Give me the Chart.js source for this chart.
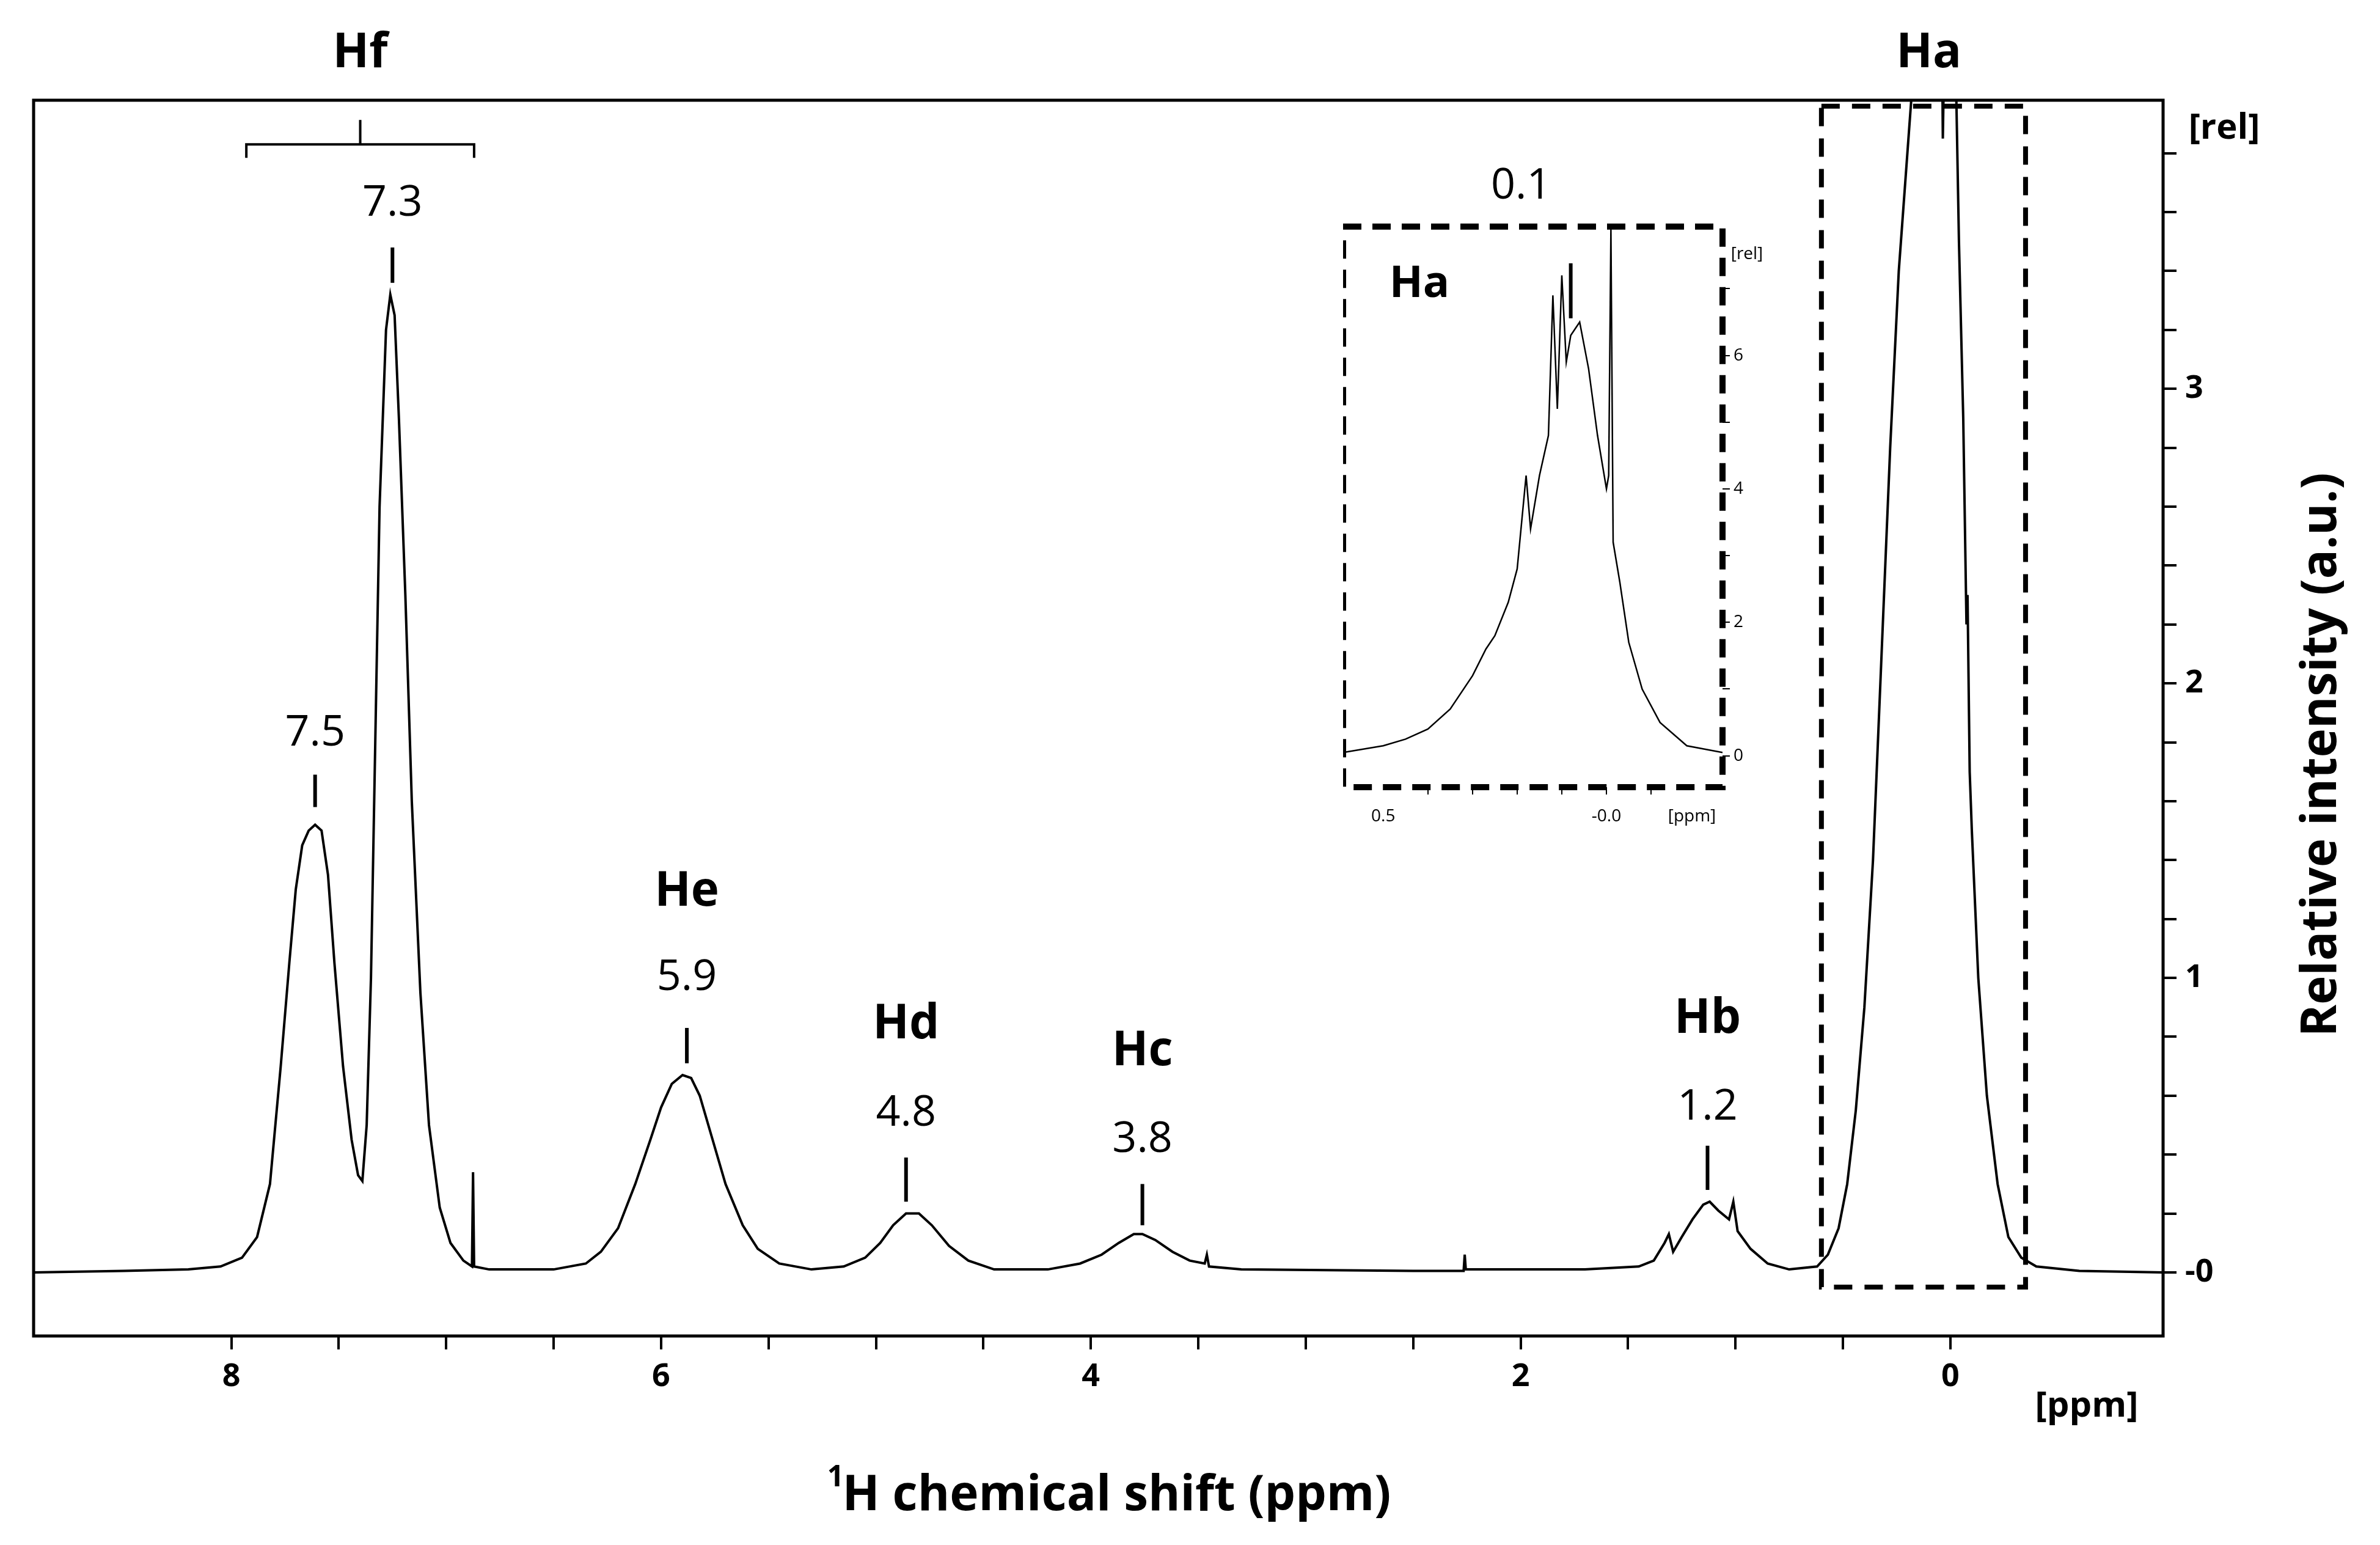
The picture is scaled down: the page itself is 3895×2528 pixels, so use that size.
<!DOCTYPE html>
<html><head><meta charset="utf-8">
<script src="https://cdn.jsdelivr.net/npm/chart.js@4"></script>
<style>body{margin:0;background:#fff;width:3895px;height:2528px;position:relative;overflow:hidden}
canvas{position:absolute}</style></head>
<body>
<canvas id="main" width="3895" height="2528" style="left:0;top:0"></canvas>
<canvas id="inset" width="760" height="1040" style="left:2198px;top:348px"></canvas>
<script>
// Main spectrum (ppm, relative intensity)
const ppm = [8.92,8.5,8.2,8.05,7.95,7.88,7.82,7.77,7.73,7.70,7.67,7.64,7.61,7.58,7.55,7.52,7.48,7.44,7.41,7.39,7.37,7.35,7.33,7.31,7.28,7.26,7.24,7.22,7.19,7.16,7.12,7.08,7.03,6.98,6.92,6.88,6.875,6.87,6.8,6.5,6.35,6.28,6.2,6.12,6.05,6.0,5.95,5.9,5.86,5.82,5.76,5.7,5.62,5.55,5.45,5.3,5.15,5.05,4.98,4.92,4.86,4.8,4.74,4.66,4.57,4.45,4.2,4.05,3.95,3.87,3.8,3.76,3.7,3.62,3.54,3.47,3.46,3.45,3.3,2.5,2.265,2.26,2.255,1.7,1.45,1.38,1.33,1.31,1.29,1.25,1.2,1.15,1.12,1.08,1.03,1.01,0.99,0.93,0.85,0.75,0.62,0.57,0.52,0.48,0.44,0.40,0.36,0.32,0.28,0.24,0.2,0.16,0.12,0.06,0.04,0.035,0.025,-0.02,-0.04,-0.06,-0.075,-0.08,-0.09,-0.1,-0.13,-0.17,-0.22,-0.27,-0.33,-0.4,-0.6,-0.99];
const intensity = [0,0.005,0.01,0.02,0.05,0.12,0.3,0.7,1.05,1.3,1.45,1.5,1.52,1.5,1.35,1.05,0.7,0.45,0.33,0.31,0.5,1.0,1.8,2.6,3.2,3.32,3.25,2.9,2.3,1.6,0.95,0.5,0.22,0.1,0.04,0.02,0.34,0.02,0.01,0.01,0.03,0.07,0.15,0.3,0.45,0.56,0.64,0.67,0.66,0.6,0.45,0.3,0.16,0.08,0.03,0.01,0.02,0.05,0.1,0.16,0.2,0.2,0.16,0.09,0.04,0.01,0.01,0.03,0.06,0.1,0.13,0.13,0.11,0.07,0.04,0.03,0.06,0.02,0.01,0.005,0.005,0.06,0.01,0.01,0.02,0.04,0.1,0.13,0.07,0.12,0.18,0.23,0.24,0.21,0.18,0.24,0.14,0.08,0.03,0.01,0.02,0.06,0.15,0.3,0.55,0.9,1.4,2.1,2.8,3.4,3.8,4.2,4.3,4.3,4.3,3.85,4.3,4.3,3.5,2.9,2.2,2.3,1.7,1.5,1.0,0.6,0.3,0.12,0.05,0.02,0.005,0];
// Inset (Ha region)
const insetPpm = [0.59,0.5,0.45,0.4,0.35,0.3,0.27,0.25,0.22,0.2,0.18,0.17,0.15,0.13,0.12,0.11,0.1,0.09,0.08,0.06,0.04,0.02,0.0,-0.005,-0.01,-0.015,-0.03,-0.05,-0.08,-0.12,-0.18,-0.26];
const insetInt = [0.05,0.15,0.25,0.4,0.7,1.2,1.6,1.8,2.3,2.8,4.2,3.4,4.2,4.8,6.9,5.2,7.2,5.9,6.3,6.5,5.8,4.8,4.0,4.2,7.9,3.2,2.6,1.7,1.0,0.5,0.15,0.05];
const xTickLabels = {8:'8',6:'6',4:'4',2:'2',0:'0'};
const yTickLabels = {0:'-0',1:'1',2:'2',3:'3'};
const insetXTicks = [0.5,0];
const insetXLabels = ['0.5','-0.0'];
const insetY = {0:'0',2:'2',4:'4',6:'6'};
const peakLabels = [
 ['7.5',7.61,1.83,1.69,1.58],['7.3',7.25,3.63,3.48,3.36],
 ['5.9',5.88,1.0,0.83,0.71],['4.8',4.86,0.54,0.39,0.24],
 ['3.8',3.76,0.45,0.30,0.16],['1.2',1.13,0.56,0.43,0.28]];
const nameLabels = [['He',5.88,1.29],['Hd',4.86,0.84],['Hc',3.76,0.75],['Hb',1.13,0.86]];

const FONT = "'Open Sans','Liberation Sans',sans-serif";
function snap(step){return s=>{s.ticks=s.ticks.filter(t=>Math.abs(t.value/step-Math.round(t.value/step))<1e-6);};}
function lab(map){return v=>{const k=Math.round(v*100)/100;return map[k]!==undefined?map[k]:'';};}

const annot = {id:'annot', afterDraw(c){
  const g=c.ctx,x=c.scales.x,y=c.scales.y,a=c.chartArea;
  g.save();
  g.strokeStyle='#000';g.lineWidth=5;g.strokeRect(a.left,a.top,a.right-a.left,a.bottom-a.top);
  g.fillStyle='#000';g.textAlign='center';g.textBaseline='middle';
  g.font='70px '+FONT;
  peakLabels.forEach(p=>{const px=x.getPixelForValue(p[1]);g.fillText(p[0],px,y.getPixelForValue(p[2]));
    g.lineWidth=6;g.beginPath();g.moveTo(px,y.getPixelForValue(p[3]));g.lineTo(px,y.getPixelForValue(p[4]));g.stroke();});
  g.font='bold 78px '+FONT;
  nameLabels.forEach(p=>g.fillText(p[0],x.getPixelForValue(p[1]),y.getPixelForValue(p[2])));
  g.fillText('Hf',x.getPixelForValue(7.40),88);
  g.fillText('Ha',x.getPixelForValue(0.1),88);
  g.lineWidth=4;g.beginPath();
  const b=y.getPixelForValue(3.83),bx1=x.getPixelForValue(7.93),bx2=x.getPixelForValue(6.87),bc=x.getPixelForValue(7.40);
  g.moveTo(bx1,b+22);g.lineTo(bx1,b);g.lineTo(bx2,b);g.lineTo(bx2,b+22);g.moveTo(bc,b);g.lineTo(bc,b-40);g.stroke();
  g.setLineDash([30,20]);g.lineWidth=8;
  const l=x.getPixelForValue(0.6),r=x.getPixelForValue(-0.35),t=y.getPixelForValue(3.96),bt=y.getPixelForValue(-0.05);
  g.strokeRect(l,t,r-l,bt-t);g.setLineDash([]);
  g.font='bold 58px '+FONT;
  g.fillText('[ppm]',3415,a.bottom+115);
  g.fillText('[rel]',3640,210);
  g.font='bold 80px '+FONT;
  g.fillText('H chemical shift (ppm)',(a.left+a.right)/2+30,2448);
  g.font='bold 48px '+FONT;g.fillText('1',(a.left+a.right)/2-430,2418);
  g.translate(3800,(a.top+a.bottom)/2+60);g.rotate(-Math.PI/2);
  g.font='bold 80px '+FONT;g.fillText('Relative intensity (a.u.)',0,0);
  g.restore();}};

new Chart(document.getElementById('main'),{type:'line',
 data:{datasets:[{data:ppm.map((v,i)=>({x:v,y:intensity[i]})),borderColor:'#000',borderWidth:4,pointRadius:0,tension:0}]},
 options:{responsive:false,devicePixelRatio:1,animation:false,
  layout:{padding:{left:55,top:164,right:0,bottom:0}},
  plugins:{legend:{display:false},tooltip:{enabled:false}},
  scales:{
   x:{type:'linear',reverse:true,min:-0.99,max:8.92,
     afterBuildTicks:snap(0.5),afterFit:s=>{s.height=342;},
     ticks:{stepSize:0.5,autoSkip:false,maxRotation:0,callback:lab(xTickLabels),color:'#000',font:{family:FONT,size:52,weight:'bold'},padding:14},
     grid:{drawOnChartArea:false,tickLength:22,color:'#000',lineWidth:4},border:{display:false}},
   y:{type:'linear',position:'right',min:-0.216,max:3.98,
     afterBuildTicks:snap(0.2),afterFit:s=>{s.width=355;},
     ticks:{stepSize:0.2,autoSkip:false,callback:lab(yTickLabels),color:'#000',font:{family:FONT,size:52,weight:'bold'},padding:14},
     grid:{drawOnChartArea:false,tickLength:22,color:'#000',lineWidth:4},border:{display:false}}}},
 plugins:[annot]});

const inAnnot={id:'inAnnot',afterDraw(c){
  const g=c.ctx,a=c.chartArea,x=c.scales.x,y=c.scales.y;g.save();
  g.strokeStyle='#000';g.setLineDash([30,18]);g.lineWidth=10;
  g.strokeRect(a.left,a.top,a.right-a.left,a.bottom-a.top);g.setLineDash([]);
  g.fillStyle='#000';g.textAlign='center';g.textBaseline='middle';
  g.font='bold 72px '+FONT;g.fillText('Ha',a.left+125,a.top+95);
  g.lineWidth=6;const px=x.getPixelForValue(0.08);
  g.beginPath();g.moveTo(px,a.top+60);g.lineTo(px,a.top+150);g.stroke();
  g.font='28px '+FONT;
  insetXTicks.forEach((v,i)=>g.fillText(insetXLabels[i],x.getPixelForValue(v),a.bottom+48));
  g.fillText('[ppm]',a.right-50,a.bottom+48);
  g.fillText('[rel]',a.right+40,a.top+45);
  g.restore();}};

new Chart(document.getElementById('inset'),{type:'line',
 data:{datasets:[{data:insetPpm.map((v,i)=>({x:v,y:insetInt[i]})),borderColor:'#000',borderWidth:2.5,pointRadius:0,tension:0}]},
 options:{responsive:false,devicePixelRatio:1,animation:false,
  layout:{padding:{left:0,top:0,right:0,bottom:0}},
  plugins:{legend:{display:false},tooltip:{enabled:false}},
  scales:{
   x:{type:'linear',reverse:true,min:-0.26,max:0.59,afterBuildTicks:snap(0.1),afterFit:s=>{s.height=100;},
     ticks:{stepSize:0.1,autoSkip:false,maxRotation:0,callback:()=>'',color:'#000',font:{family:FONT,size:28},padding:6},
     grid:{drawOnChartArea:false,tickLength:12,color:'#000',lineWidth:2},border:{display:false}},
   y:{type:'linear',position:'right',min:-0.47,max:7.93,afterBuildTicks:snap(1),afterFit:s=>{s.width=139;},
     ticks:{stepSize:1,autoSkip:false,callback:lab(insetY),color:'#000',font:{family:FONT,size:28},padding:6},
     grid:{drawOnChartArea:false,tickLength:12,color:'#000',lineWidth:2},border:{display:false}}}},
 plugins:[inAnnot]});
</script>
<div style="position:absolute;left:2440px;top:250px;font:70px 'Open Sans',sans-serif">0.1</div>
</body></html>
